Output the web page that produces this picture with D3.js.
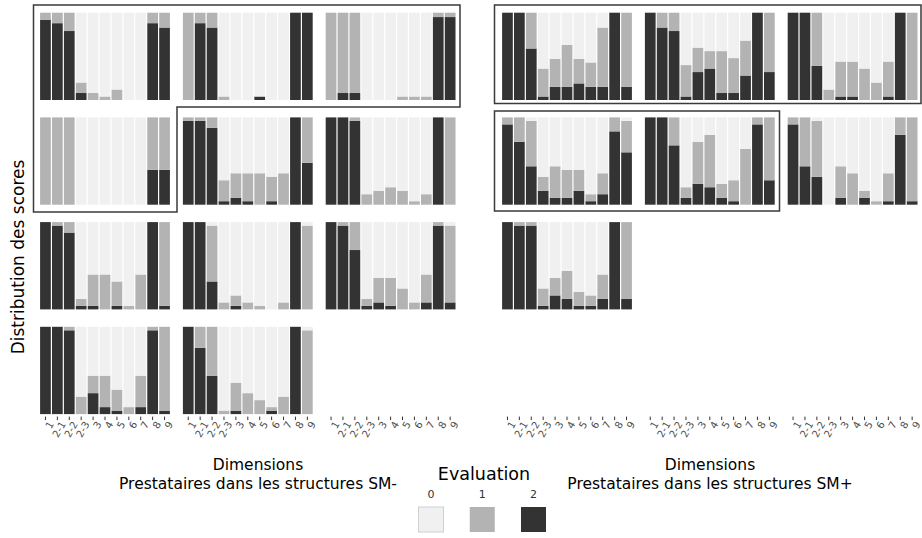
<!DOCTYPE html>
<html>
<head>
<meta charset="utf-8">
<script src="https://cdn.jsdelivr.net/npm/d3@7"></script>
<style>
  body { margin: 0; background: #fff; }
  text { font-family: "DejaVu Sans", sans-serif; }
</style>
</head>
<body>
<div class="chart"></div>
<script>
var svgWidth = 922;
var svgHeight = 538;

// dimensions on the x axis of every small panel
var dims = ["1", "2-1", "2-2", "2-3", "3", "4", "5", "6", "7", "8", "9"];
var levels = ["0", "1", "2"];

// share of score 2 and score 1 per panel (score 0 = the rest), SM- providers
var minusTwo = [
  [0.92, 0.88, 0.79, 0.08, 0, 0, 0, 0, 0, 0.88, 0.83],
  [0, 0.88, 0.83, 0, 0, 0, 0.04, 0, 0, 1, 1],
  [0, 0.08, 0.08, 0, 0, 0, 0, 0, 0, 0.95, 0.95],
  [0, 0, 0, 0, 0, 0, 0, 0, 0, 0.4, 0.4],
  [0.96, 0.96, 0.88, 0.04, 0.08, 0.04, 0, 0.04, 0, 1, 0.48],
  [1, 1, 0.96, 0, 0, 0, 0, 0, 0, 1, 0],
  [1, 0.96, 0.88, 0.04, 0.04, 0, 0.04, 0, 0, 1, 0.04],
  [1, 1, 0.32, 0, 0.04, 0, 0, 0, 0, 1, 0],
  [1, 0.96, 0.68, 0.04, 0.08, 0.04, 0, 0, 0.08, 0.96, 0.08],
  [1, 1, 0.96, 0, 0.24, 0.08, 0.04, 0, 0.08, 0.96, 0.04],
  [1, 0.76, 0.44, 0, 0.04, 0, 0, 0.04, 0, 1, 0]
];
var minusOne = [
  [0.08, 0.12, 0.21, 0.12, 0.08, 0.04, 0.12, 0, 0, 0.12, 0.17],
  [1, 0.12, 0.17, 0.04, 0, 0, 0, 0, 0, 0, 0],
  [1, 0.92, 0.92, 0, 0, 0, 0.04, 0.04, 0.04, 0.05, 0.05],
  [1, 1, 1, 0, 0, 0, 0, 0, 0, 0.6, 0.6],
  [0.04, 0.04, 0.12, 0.24, 0.28, 0.32, 0.36, 0.28, 0.36, 0, 0.52],
  [0, 0, 0.04, 0.12, 0.16, 0.2, 0.16, 0.04, 0.12, 0, 1],
  [0, 0.04, 0.12, 0.08, 0.36, 0.4, 0.28, 0.04, 0.4, 0, 0.96],
  [0, 0, 0.64, 0.08, 0.12, 0.08, 0.04, 0, 0.08, 0, 0.96],
  [0, 0.04, 0.32, 0.08, 0.28, 0.32, 0.24, 0.08, 0.32, 0.04, 0.88],
  [0, 0, 0.04, 0.2, 0.2, 0.36, 0.24, 0.08, 0.36, 0.04, 0.96],
  [0, 0.24, 0.56, 0.04, 0.32, 0.24, 0.16, 0.04, 0.2, 0, 0.96]
];

// same for SM+ providers
var plusTwo = [
  [1, 1, 0.59, 0.04, 0.15, 0.15, 0.19, 0.15, 0.15, 1, 0.15],
  [1, 0.83, 0.79, 0.04, 0.32, 0.36, 0.08, 0.08, 0.28, 1, 0.32],
  [1, 1, 0.39, 0, 0.04, 0.04, 0, 0, 0.04, 1, 0],
  [0.92, 0.72, 0.44, 0.16, 0.08, 0.08, 0.16, 0.04, 0.12, 0.84, 0.6],
  [1, 1, 0.68, 0.08, 0.24, 0.2, 0.08, 0.04, 0, 0.92, 0.28],
  [0.92, 0.44, 0.32, 0, 0.08, 0, 0.08, 0, 0.04, 0.8, 0.04],
  [1, 0.96, 0.96, 0.04, 0.16, 0.12, 0.04, 0.04, 0.12, 1, 0.12]
];
var plusOne = [
  [0, 0, 0.41, 0.32, 0.32, 0.48, 0.28, 0.28, 0.68, 0, 0.85],
  [0, 0.17, 0.21, 0.36, 0.28, 0.2, 0.48, 0.4, 0.4, 0, 0.68],
  [0, 0, 0.61, 0.12, 0.4, 0.4, 0.36, 0.2, 0.4, 0, 1],
  [0.08, 0.28, 0.52, 0.16, 0.36, 0.32, 0.24, 0.08, 0.24, 0.16, 0.36],
  [0, 0, 0.32, 0.12, 0.48, 0.6, 0.16, 0.24, 0.64, 0.08, 0.72],
  [0.08, 0.56, 0.64, 0, 0.36, 0.36, 0.08, 0.04, 0.32, 0.2, 0.96],
  [0, 0.04, 0.04, 0.2, 0.2, 0.32, 0.16, 0.12, 0.28, 0, 0.88]
];

// Layout
var colPitch = 142.8;
var rowPitch = 104.7;
var panelW = 131;
var panelH = 87.3;
var panelTop = 12.7;
var nCols = 3;
var nRows = 4;

var color = d3.scaleOrdinal()
  .domain(levels)
  .range(["#f0f0f0", "#b3b3b3", "#333333"]);

var svg = d3.select(".chart").append("svg")
  .attr("width", svgWidth)
  .attr("height", svgHeight);

var stack = d3.stack().keys(["2", "1", "0"]);

function drawBlock(two, one, originX, titleX, title) {
  var block = svg.append("g");

  var x = d3.scaleBand()
    .domain(dims)
    .range([0, panelW])
    .paddingInner(0.1)
    .paddingOuter(0.05);

  var y = d3.scaleLinear()
    .domain([0, 1])
    .range([panelH, 0]);

  two.forEach(function(vals, i) {
    var row = Math.floor(i / nCols);
    var col = i % nCols;
    var rows = dims.map(function(d, j) {
      return { dim: d, "2": vals[j], "1": one[i][j], "0": Math.max(0, 1 - vals[j] - one[i][j]) };
    });

    var panel = block.append("g")
      .attr("transform", `translate(${originX + col * colPitch}, ${panelTop + row * rowPitch})`);

    panel.selectAll("g.layer")
      .data(stack(rows))
      .enter()
      .append("g")
      .attr("class", "layer")
      .attr("fill", d => color(d.key))
      .selectAll("rect")
      .data(d => d)
      .enter()
      .append("rect")
      .attr("x", d => x(d.data.dim))
      .attr("width", x.bandwidth())
      .attr("y", d => y(d[1]))
      .attr("height", d => y(d[0]) - y(d[1]));
  });

  // x axis under the last row of every column
  for (var c = 0; c < nCols; c++) {
    var axis = block.append("g")
      .attr("transform", `translate(${originX + c * colPitch}, ${panelTop + (nRows - 1) * rowPitch + panelH + 2.5})`)
      .call(d3.axisBottom(x).tickSize(3.5).tickPadding(2));
    axis.select(".domain").remove();
    axis.selectAll("line").attr("stroke", "#333");
    axis.selectAll("text")
      .attr("fill", "#4d4d4d")
      .style("font-size", "10px")
      .attr("text-anchor", "end")
      .attr("dy", "0.35em")
      .attr("transform", "translate(1,3) rotate(-60)");
  }

  block.append("text")
    .attr("x", titleX)
    .attr("y", 470)
    .attr("text-anchor", "middle")
    .style("font-size", "15.5px")
    .text("Dimensions");
  block.append("text")
    .attr("x", titleX)
    .attr("y", 489)
    .attr("text-anchor", "middle")
    .style("font-size", "15.5px")
    .text(title);
}

drawBlock(minusTwo, minusOne, 39.5, 258, "Prestataires dans les structures SM-");
drawBlock(plusTwo, plusOne, 501.5, 710, "Prestataires dans les structures SM+");

// Outlines around groups of panels
var line = d3.line();
var outline = { fill: "none", stroke: "#3a3a3a", "stroke-width": 1.5 };
function addOutline(pts) {
  var p = svg.append("path").attr("d", line(pts) + "Z");
  Object.keys(outline).forEach(k => p.attr(k, outline[k]));
}
addOutline([[33.5, 5], [460, 5], [460, 107], [177, 107], [177, 212], [33.5, 212]]);
addOutline([[494.5, 5], [921, 5], [921, 103.5], [494.5, 103.5]]);
addOutline([[494.5, 111], [779.5, 111], [779.5, 211], [494.5, 211]]);

// y axis title
svg.append("text")
  .attr("transform", "translate(24, 257) rotate(-90)")
  .attr("text-anchor", "middle")
  .style("font-size", "17px")
  .text("Distribution des scores");

// Legend
var legend = svg.append("g");
legend.append("text")
  .attr("x", 484)
  .attr("y", 480)
  .attr("text-anchor", "middle")
  .style("font-size", "17.5px")
  .text("Evaluation");

var lx = d3.scalePoint().domain(levels).range([431, 533.5]);

legend.selectAll("rect")
  .data(levels)
  .enter()
  .append("rect")
  .attr("x", d => lx(d) - 12.5)
  .attr("y", 507)
  .attr("width", 25)
  .attr("height", 25)
  .attr("fill", d => color(d))
  .attr("stroke", d => d === "0" ? "#cfcfcf" : "none");

legend.selectAll("text.lab")
  .data(levels)
  .enter()
  .append("text")
  .attr("class", "lab")
  .attr("x", d => lx(d))
  .attr("y", 498)
  .attr("text-anchor", "middle")
  .attr("fill", "#333")
  .style("font-size", "11px")
  .text(d => d);
</script>
</body>
</html>
